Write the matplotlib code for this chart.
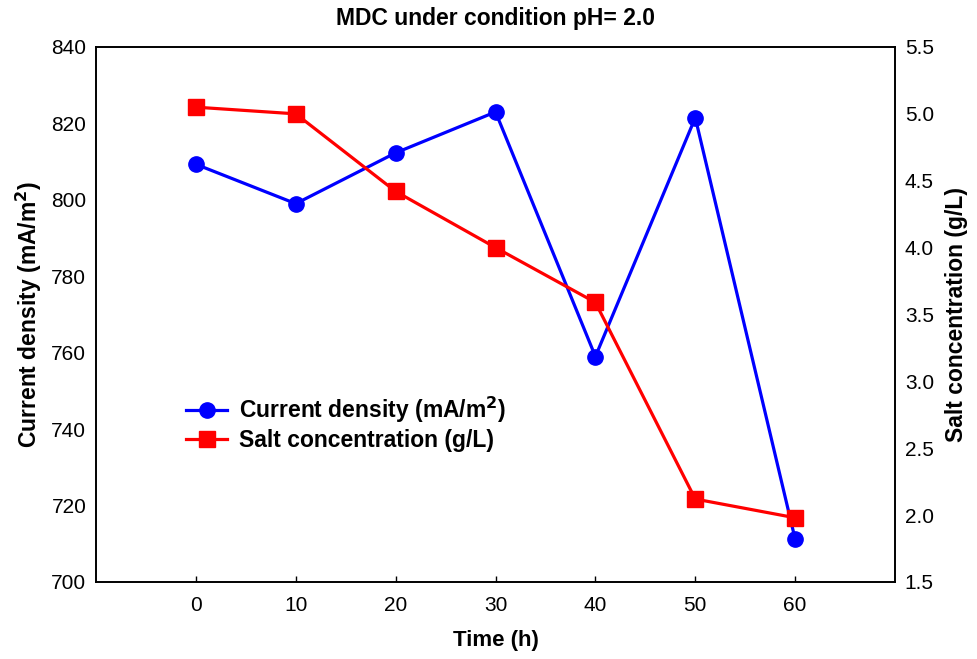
#!/usr/bin/env python3
"""Current density and salt concentration over time, MDC at pH 2.0."""

import matplotlib
matplotlib.use("Agg")
import matplotlib.pyplot as plt

time_h = [0, 10, 20, 30, 40, 50, 60]
current_density = [809.3, 799.0, 812.3, 823.0, 759.0, 821.5, 711.2]
salt_conc = [5.05, 5.00, 4.42, 4.00, 3.59, 2.12, 1.98]

x_ticks = [0, 10, 20, 30, 40, 50, 60]
left_ticks = [700, 720, 740, 760, 780, 800, 820, 840]
right_ticks = [1.5, 2.0, 2.5, 3.0, 3.5, 4.0, 4.5, 5.0, 5.5]

plt.rcParams["font.family"] = ["Liberation Sans", "DejaVu Sans"]
plt.rcParams["mathtext.default"] = "bf"
NARROW = ["Liberation Sans Narrow", "Liberation Sans", "DejaVu Sans"]

fig = plt.figure(figsize=(9.77, 6.59), dpi=100)
ax = fig.add_axes([0.0983, 0.1169, 0.8178, 0.8118])
ax2 = ax.twinx()

l1, = ax.plot(time_h, current_density, color="#0000ff", lw=2.3, marker="o",
              markersize=11, label="Current density (mA/m$^\\mathbf{2}$)")
l2, = ax2.plot(time_h, salt_conc, color="#ff0000", lw=2.3, marker="s",
               markersize=11, label="Salt concentration (g/L)")

ax.set_xlim(-10, 70)
ax.set_ylim(700, 840)
ax2.set_ylim(1.5, 5.5)
ax.set_xticks(x_ticks)
ax.set_yticks(left_ticks)
ax2.set_yticks(right_ticks)
ax2.set_yticklabels([f"{v:.1f}" for v in right_ticks])

ax.tick_params(axis="x", direction="in", length=4, width=1, pad=10, labelsize=15)
ax.tick_params(axis="y", length=0, pad=7, labelsize=15)
ax2.tick_params(axis="y", length=0, pad=7, labelsize=15)
for lab in ax.get_xticklabels():
    lab.set_family(NARROW)

for a in (ax, ax2):
    for sp in a.spines.values():
        sp.set_linewidth(1.2)

ax.set_xlabel("Time (h)", fontsize=16, fontweight="bold", family=NARROW, labelpad=11)
ax.set_ylabel("Current density (mA/m$^\\mathbf{2}$)", fontsize=16.5, fontweight="bold", labelpad=5)
ax2.set_ylabel("Salt concentration (g/L)", fontsize=16.5, fontweight="bold", labelpad=8)
ax.set_title("MDC under condition pH= 2.0", fontsize=16.5, fontweight="bold", pad=16)

leg = ax2.legend(handles=[l1, l2], loc="center left", bbox_to_anchor=(0.087, 0.296),
                 frameon=False, prop={"size": 16.5, "weight": "bold"},
                 handlelength=1.8, handletextpad=0.5, labelspacing=0.15)

fig.savefig("out.png", dpi=100)
plt.close(fig)
